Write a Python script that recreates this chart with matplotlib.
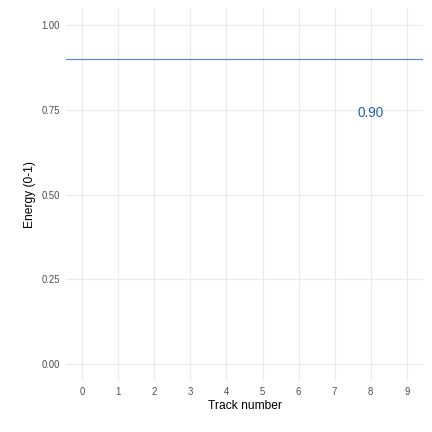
import matplotlib
matplotlib.use("Agg")
import matplotlib.pyplot as plt

tracks = list(range(10))
energy_line = 0.90
label_text = "0.90"
label_x = 8
label_y = 0.74
y_ticks = [0, 0.25, 0.5, 0.75, 1.0]
y_tick_labels = ["0.00", "0.25", "0.50", "0.75", "1.00"]

plt.rcParams['font.family'] = ['Liberation Sans', 'DejaVu Sans']
plt.rcParams['xtick.labelsize'] = 9.5
plt.rcParams['ytick.labelsize'] = 9.5
fig, ax = plt.subplots(figsize=(6, 6), dpi=72)
fig.subplots_adjust(left=0.153, right=0.979, bottom=0.118, top=0.981)
ax.axhline(energy_line, color='#5b8cca', linewidth=1.2)
ax.text(label_x, label_y, label_text, color='#1f5fb4', fontsize=13.5, ha='center', va='center')
ax.set_xlim(-0.45, 9.45)
ax.set_ylim(-0.05, 1.05)
ax.set_xticks(tracks)
ax.set_xticklabels([str(t) for t in tracks])
ax.set_yticks(y_ticks)
ax.set_yticklabels(y_tick_labels)
ax.grid(True, color='#ebebeb', linewidth=1.2)
ax.set_axisbelow(True)
for s in ax.spines.values():
    s.set_visible(False)
ax.tick_params(length=0, labelcolor='#4d4d4d', pad=6)
ax.set_xlabel("Track number", fontsize=12, labelpad=3)
ax.set_ylabel("Energy (0-1)", fontsize=12, labelpad=6)
fig.savefig("out.png", dpi=72)
